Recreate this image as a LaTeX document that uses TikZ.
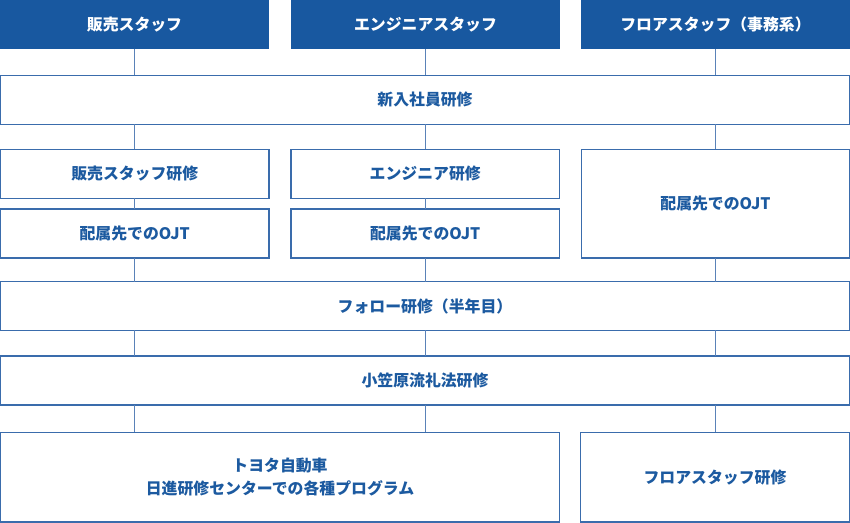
\documentclass[tikz,border=0pt]{standalone}
\usepackage{fontspec}
\setmainfont{Noto Sans CJK JP}
\definecolor{hdr}{HTML}{1858A0}
\definecolor{txt}{HTML}{1C5AA0}
\definecolor{bdr}{HTML}{3A6CAC}
\definecolor{lnk}{HTML}{5A82B8}
\tikzset{
  hbox/.style={rectangle, fill=hdr, text=white, inner sep=0pt, outer sep=0pt, font=\fontsize{11.9pt}{14pt}\selectfont\bfseries},
  wbox/.style={rectangle, draw=bdr, line width=0.8pt, fill=white, text=txt, inner sep=0pt, outer sep=0pt, align=center, font=\fontsize{11.9pt}{17.5pt}\selectfont\bfseries},
  link/.style={draw=lnk, line width=0.75pt},
}
\begin{document}
\begin{tikzpicture}[x=0.75pt,y=-0.75pt]
\useasboundingbox (0,0) rectangle (850,523);
\node[hbox, minimum width=269*0.75pt, minimum height=49*0.75pt] (t1) at (134.5,24.5) {販売スタッフ};
\node[hbox, minimum width=269*0.75pt, minimum height=49*0.75pt] (t2) at (425.5,24.5) {エンジニアスタッフ};
\node[hbox, minimum width=269*0.75pt, minimum height=49*0.75pt] (t3) at (715.5,24.5) {フロアスタッフ（事務系）};
\node[wbox, minimum width=849*0.75pt, minimum height=49*0.75pt] (n) at (425,100) {新入社員研修};
\node[wbox, minimum width=268.5*0.75pt, minimum height=49*0.75pt] (a1) at (134.75,174) {販売スタッフ研修};
\node[wbox, minimum width=268.5*0.75pt, minimum height=49*0.75pt] (a2) at (425.25,174) {エンジニア研修};
\node[wbox, minimum width=268.5*0.75pt, minimum height=49*0.75pt] (b1) at (134.75,233.5) {配属先でのOJT};
\node[wbox, minimum width=268.5*0.75pt, minimum height=49*0.75pt] (b2) at (425.25,233.5) {配属先でのOJT};
\node[wbox, minimum width=268*0.75pt, minimum height=108.5*0.75pt] (c3) at (715.5,203.75) {配属先でのOJT};
\node[wbox, minimum width=849*0.75pt, minimum height=48.5*0.75pt] (f) at (425,306) {フォロー研修（半年目）};
\node[wbox, minimum width=849*0.75pt, minimum height=49*0.75pt] (o) at (425,380.5) {小笠原流礼法研修};
\node[wbox, minimum width=559*0.75pt, minimum height=89.5*0.75pt] (g) at (280,477.25) {トヨタ自動車\\日進研修センターでの各種プログラム};
\node[wbox, minimum width=269*0.75pt, minimum height=89.5*0.75pt] (h) at (715,477.25) {フロアスタッフ研修};
% connectors
\draw[link] (t1.south) -- (t1.south |- n.north);
\draw[link] (t2.south) -- (t2.south |- n.north);
\draw[link] (t3.south) -- (t3.south |- n.north);
\draw[link] (a1.north) -- (a1.north |- n.south);
\draw[link] (a2.north) -- (a2.north |- n.south);
\draw[link] (c3.north) -- (c3.north |- n.south);
\draw[link] (a1.south) -- (b1.north);
\draw[link] (a2.south) -- (b2.north);
\draw[link] (b1.south) -- (b1.south |- f.north);
\draw[link] (b2.south) -- (b2.south |- f.north);
\draw[link] (c3.south) -- (c3.south |- f.north);
\draw[link] (b1.south |- f.south) -- (b1.south |- o.north);
\draw[link] (b2.south |- f.south) -- (b2.south |- o.north);
\draw[link] (c3.south |- f.south) -- (c3.south |- o.north);
\draw[link] (b1.south |- o.south) -- (b1.south |- g.north);
\draw[link] (b2.south |- o.south) -- (b2.south |- g.north);
\draw[link] (h.north) -- (h.north |- o.south);
\end{tikzpicture}
\end{document}
